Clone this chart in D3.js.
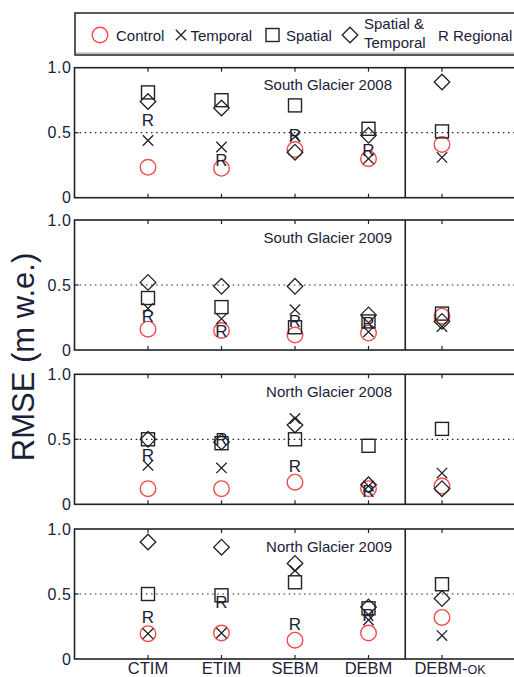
<!DOCTYPE html>
<html><head><meta charset="utf-8">
<script src="https://cdn.jsdelivr.net/npm/d3@7"></script>
<style>
html,body{margin:0;padding:0;background:#fff;}
svg{display:block;font-family:"Liberation Sans",Arial,sans-serif;}
</style></head>
<body><div id="chart"></div>
<script>
const categories = ["CTIM","ETIM","SEBM","DEBM","DEBM-OK"];
const panelTitles = ["South Glacier 2008","South Glacier 2009","North Glacier 2008","North Glacier 2009"];
const control = [
  [0.234,0.226,0.37,0.30,0.41],
  [0.16,0.15,0.115,0.13,0.26],
  [0.12,0.12,0.17,0.12,0.14],
  [0.195,0.20,0.145,0.20,0.32]];
const temporal = [
  [0.44,0.39,0.47,0.30,0.31],
  [0.32,0.24,0.31,0.14,0.18],
  [0.30,0.28,0.66,0.14,0.24],
  [0.195,0.20,0.68,0.30,0.18]];
const spatial = [
  [0.81,0.75,0.71,0.53,0.51],
  [0.40,0.33,0.175,0.22,0.28],
  [0.50,0.47,0.50,0.45,0.58],
  [0.50,0.49,0.59,0.39,0.575]];
const spatialTemporal = [
  [0.74,0.69,0.35,0.48,0.89],
  [0.52,0.49,0.49,0.27,0.22],
  [0.50,0.48,0.61,0.15,0.12],
  [0.90,0.86,0.735,0.40,0.465]];
const regional = [
  [0.60,0.29,0.48,0.37,null],
  [0.26,0.15,0.22,0.21,null],
  [0.38,0.50,0.295,0.105,null],
  [0.32,0.44,0.27,0.34,null]];
const yTicks = [0, 0.5, 1.0];
const yTickLabels = ["0","0.5","1.0"];
const legendLabels = ["Control","Temporal","Spatial","Spatial &|Temporal","R Regional"];

const W = 514, H = 677;
const ink = "#222", txt = "#1b2238", red = "#f24b4b";
const svg = d3.select("#chart").append("svg").attr("width", W).attr("height", H);

const x = d3.scaleLinear().domain([0, 6]).range([74.5, 515.5]);
const panelTops = [67.7, 220, 374.3, 529];
const panelH = 130;

function drawMarker(g, type, cx, cy) {
  if (cy == null) return;
  if (type === "control") {
    g.append("circle").attr("cx", cx).attr("cy", cy).attr("r", 7.8)
      .attr("fill", "none").attr("stroke", red).attr("stroke-width", 1.4);
  } else if (type === "temporal") {
    const s = 5.2;
    g.append("path").attr("d", `M${cx-s},${cy-s}L${cx+s},${cy+s}M${cx-s},${cy+s}L${cx+s},${cy-s}`)
      .attr("stroke", ink).attr("stroke-width", 1.3).attr("fill", "none");
  } else if (type === "spatial") {
    const s = 6.5;
    g.append("rect").attr("x", cx-s).attr("y", cy-s).attr("width", 2*s).attr("height", 2*s)
      .attr("fill", "none").attr("stroke", ink).attr("stroke-width", 1.4);
  } else if (type === "st") {
    const s = 7.8;
    g.append("path").attr("d", `M${cx},${cy-s}L${cx+s},${cy}L${cx},${cy+s}L${cx-s},${cy}Z`)
      .attr("fill", "none").attr("stroke", ink).attr("stroke-width", 1.3);
  } else if (type === "regional") {
    g.append("text").attr("x", cx).attr("y", cy + 6).attr("text-anchor", "middle")
      .attr("font-size", 17).attr("fill", txt).text("R");
  }
}

panelTitles.forEach((title, p) => {
  const top = panelTops[p];
  const y = d3.scaleLinear().domain([0, 1]).range([top + panelH, top]);
  const g = svg.append("g");

  // dotted reference line
  g.append("line").attr("x1", x(0)).attr("x2", x(6)).attr("y1", y(0.5)).attr("y2", y(0.5))
    .attr("stroke", ink).attr("stroke-width", 1.2).attr("stroke-dasharray", "1.5,3.6");

  // ticks inside
  categories.forEach((c, i) => {
    const xi = x(i + 1);
    g.append("line").attr("x1", xi).attr("x2", xi).attr("y1", y(1)).attr("y2", y(1) + 4).attr("stroke", ink).attr("stroke-width", 1.2);
    g.append("line").attr("x1", xi).attr("x2", xi).attr("y1", y(0)).attr("y2", y(0) - 4).attr("stroke", ink).attr("stroke-width", 1.2);
  });
  g.append("line").attr("x1", x(0)).attr("x2", x(0) + 4).attr("y1", y(0.5)).attr("y2", y(0.5)).attr("stroke", ink).attr("stroke-width", 1.2);

  // y tick labels
  yTicks.forEach((t, k) => {
    g.append("text").attr("x", 71.5).attr("y", y(t) + 5.5).attr("text-anchor", "end")
      .attr("font-size", 16).attr("fill", txt).attr("letter-spacing", 0.6).text(yTickLabels[k]);
  });

  // frame and divider
  g.append("rect").attr("x", x(0)).attr("y", y(1)).attr("width", x(6) - x(0)).attr("height", panelH)
    .attr("fill", "none").attr("stroke", ink).attr("stroke-width", 1.6);
  g.append("line").attr("x1", x(4.5)).attr("x2", x(4.5)).attr("y1", y(0)).attr("y2", y(1))
    .attr("stroke", ink).attr("stroke-width", 1.6);

  g.append("text").attr("x", 392).attr("y", top + 22.5).attr("text-anchor", "end")
    .attr("font-size", 15).attr("fill", txt).text(title);

  categories.forEach((c, i) => {
    const xi = x(i + 1);
    drawMarker(g, "control", xi, control[p][i] == null ? null : y(control[p][i]));
    drawMarker(g, "temporal", xi, temporal[p][i] == null ? null : y(temporal[p][i]));
    drawMarker(g, "spatial", xi, spatial[p][i] == null ? null : y(spatial[p][i]));
    drawMarker(g, "st", xi, spatialTemporal[p][i] == null ? null : y(spatialTemporal[p][i]));
    drawMarker(g, "regional", xi, regional[p][i] == null ? null : y(regional[p][i]));
  });
});

// x labels
categories.forEach((c, i) => {
  const t = svg.append("text").attr("x", x(i + 1) + (c === "DEBM-OK" ? 8 : 0)).attr("y", 674)
    .attr("text-anchor", "middle").attr("font-size", 16.5).attr("fill", txt);
  if (c === "DEBM-OK") {
    t.append("tspan").text("DEBM-");
    t.append("tspan").attr("font-size", 12.5).text("OK");
  } else t.text(c);
});

// y axis label
svg.append("text").attr("transform", "translate(34,357) rotate(-90)").attr("text-anchor", "middle")
  .attr("font-size", 31).attr("fill", txt).text("RMSE (m w.e.)");

// legend
const lg = svg.append("g");
lg.append("rect").attr("x", 75).attr("y", 13).attr("width", 470).attr("height", 42)
  .attr("fill", "#fff").attr("stroke", ink).attr("stroke-width", 1.5);
lg.append("line").attr("x1", 76).attr("x2", 545).attr("y1", 53.2).attr("y2", 53.2).attr("stroke", "#aaa").attr("stroke-width", 1.2);
const ly = 35;
drawMarker(lg, "control", 100, ly);
lg.append("text").attr("x", 116).attr("y", ly + 5.5).attr("font-size", 15).attr("fill", txt).text(legendLabels[0]);
drawMarker(lg, "temporal", 181, ly);
lg.append("text").attr("x", 190.5).attr("y", ly + 5.5).attr("font-size", 15).attr("fill", txt).text(legendLabels[1]);
drawMarker(lg, "spatial", 272.5, ly);
lg.append("text").attr("x", 286).attr("y", ly + 5.5).attr("font-size", 15).attr("fill", txt).text(legendLabels[2]);
drawMarker(lg, "st", 350, ly);
const stl = legendLabels[3].split("|");
lg.append("text").attr("x", 364).attr("y", 29).attr("font-size", 15).attr("fill", txt).text(stl[0]);
lg.append("text").attr("x", 364).attr("y", 47.5).attr("font-size", 15).attr("fill", txt).text(stl[1]);
lg.append("text").attr("x", 438).attr("y", ly + 5.5).attr("font-size", 15).attr("fill", txt).text(legendLabels[4]);
</script>
</body></html>
